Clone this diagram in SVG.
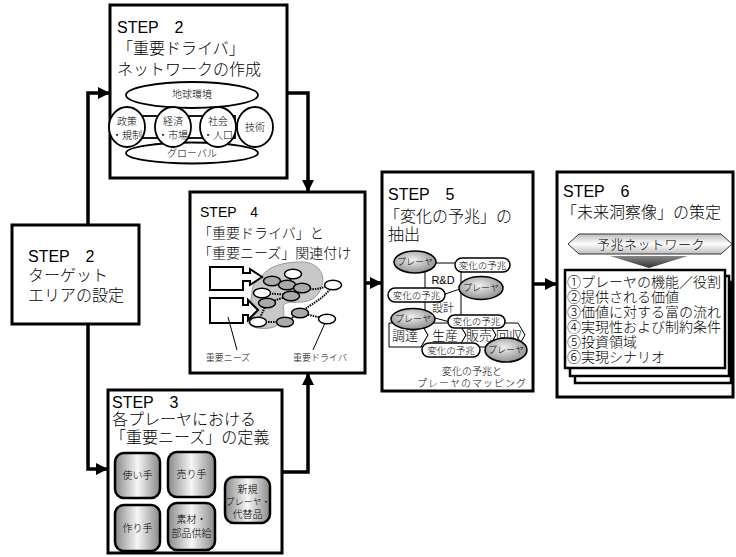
<svg xmlns="http://www.w3.org/2000/svg" width="736" height="557" viewBox="0 0 736 557">
<style>
text{font-family:"Liberation Sans","Noto Sans CJK JP",sans-serif;fill:#000;font-weight:300}
.box{fill:#fff;stroke:#000;stroke-width:3}
.t{font-size:16px}
.t4{font-size:14px}
.s{font-size:10px;text-anchor:middle}
.xs{font-size:9px;text-anchor:middle}
.ps{font-size:9.5px;text-anchor:middle}
.conn{fill:none;stroke:#000;stroke-width:3.5}
.thin{fill:#fff;stroke:#000;stroke-width:1.8}
.ln{fill:none;stroke:#000;stroke-width:1}
.dot{fill:none;stroke:#000;stroke-width:2;stroke-dasharray:1.5 1}
.wn{fill:#fff;stroke:#000;stroke-width:1.5}
.gn{fill:#aaa;stroke:#000;stroke-width:1.5}
.rb{fill:url(#hg);stroke:#000;stroke-width:2.5}
.pl{fill:url(#rg);stroke:#000;stroke-width:1.5}
.pill{fill:#fff;stroke:#000;stroke-width:1.5}
.chev{fill:#fff;stroke:#000;stroke-width:1}
</style>
<defs>
<marker id="ah" viewBox="0 0 12 12" refX="12" refY="6" markerWidth="12" markerHeight="12" markerUnits="userSpaceOnUse" orient="auto">
<path d="M0,0 L12,6 L0,12 Z" fill="#000"/>
</marker>
<linearGradient id="hg" x1="0" y1="0" x2="1" y2="0">
<stop offset="0" stop-color="#888"/>
<stop offset="0.5" stop-color="#f6f6f6"/>
<stop offset="1" stop-color="#888"/>
</linearGradient>
<radialGradient id="rg" cx="0.45" cy="0.4" r="0.65">
<stop offset="0" stop-color="#f0f0f0"/>
<stop offset="1" stop-color="#8a8a8a"/>
</radialGradient>
<linearGradient id="bg" x1="0" y1="0" x2="0" y2="1">
<stop offset="0" stop-color="#bdbdbd"/>
<stop offset="0.5" stop-color="#fdfdfd"/>
<stop offset="1" stop-color="#bdbdbd"/>
</linearGradient>
<linearGradient id="dg" x1="0" y1="0" x2="0" y2="1">
<stop offset="0" stop-color="#888"/>
<stop offset="1" stop-color="#333"/>
</linearGradient>
</defs>

<g id="connectors">
<path class="conn" d="M88,225 V93 H110" marker-end="url(#ah)"/>
<path class="conn" d="M88,324 V469 H108" marker-end="url(#ah)"/>
<path class="conn" d="M287,93 H308 V192" marker-end="url(#ah)"/>
<path class="conn" d="M282,472 H308 V373" marker-end="url(#ah)"/>
<path class="conn" d="M365,283 H382" marker-end="url(#ah)"/>
<path class="conn" d="M533,284 H557" marker-end="url(#ah)"/>
</g>

<g id="step2-target">
<rect class="box" x="12" y="225" width="127" height="99"/>
<text class="t" x="28" y="262">STEP　2</text>
<text class="t" x="28" y="281">ターゲット</text>
<text class="t" x="28" y="301">エリアの設定</text>
</g>

<g id="step2-network">
<rect class="box" x="110" y="5" width="177" height="173"/>
<text class="t" x="117" y="33">STEP　2</text>
<text class="t" x="117" y="54">「重要ドライバ」</text>
<text class="t" x="117" y="75">ネットワークの作成</text>
<ellipse class="thin" cx="192" cy="95" rx="66" ry="13"/>
<ellipse class="thin" cx="192" cy="153" rx="66" ry="10.5"/>
<rect class="thin" x="135" y="116" width="100" height="22"/>
<ellipse class="thin" cx="127" cy="127" rx="18" ry="20"/>
<ellipse class="thin" cx="173" cy="127" rx="18" ry="20"/>
<ellipse class="thin" cx="218" cy="127" rx="18" ry="20"/>
<ellipse class="thin" cx="255" cy="127" rx="18" ry="20"/>
<text class="s" x="192" y="98">地球環境</text>
<text class="s" x="192" y="157">グローバル</text>
<text class="s" x="127" y="125">政策</text>
<text class="s" x="127" y="139">・規制</text>
<text class="s" x="173" y="125">経済</text>
<text class="s" x="173" y="139">・市場</text>
<text class="s" x="218" y="125">社会</text>
<text class="s" x="218" y="139">・人口</text>
<text class="s" x="255" y="131">技術</text>
</g>

<g id="step4">
<rect class="box" x="190" y="192" width="175" height="181"/>
<text class="t4" x="200" y="217">STEP　4</text>
<text class="t4" x="198" y="238">「重要ドライバ」と</text>
<text class="t4" x="198" y="258">「重要ニーズ」関連付け</text>
<path d="M262,276 C268,266 285,262 300,262 C315,261 326,272 322,285 C319,297 311,302 300,302 C291,303 286,301 283,306 C286,316 282,326 270,328 C256,330 245,326 248,316 C250,308 251,300 252,292 C252,285 256,280 262,276 Z" fill="#c8c8c8" stroke="#999" stroke-width="1"/>
<path d="M210,267 H243 V273 H250 V269 L262,277 L250,285 V281 H243 V290 H210 Z" fill="#fff" stroke="#000" stroke-width="2"/>
<path d="M210,298 H243 V305 H248 V300 L258,310 L248,320 V315 H243 V323 H210 Z" fill="#fff" stroke="#000" stroke-width="2"/>
<path class="dot" d="M272,281 L287,285 L300,287 M293,274 L287,285 M300,287 C315,292 322,287 333,285 M330,289 C322,300 312,303 300,313 M262,293 L291,295 L267,303 M267,303 L258,322 M258,322 L285,322 L300,313 L327,319"/>
<ellipse class="wn" cx="293" cy="274" rx="8.5" ry="4.8"/>
<ellipse class="gn" cx="272" cy="281" rx="8.5" ry="4.8"/>
<ellipse class="gn" cx="287" cy="285" rx="8.5" ry="4.8"/>
<ellipse class="gn" cx="302" cy="288" rx="8.5" ry="4.8"/>
<ellipse class="wn" cx="333" cy="285" rx="8.5" ry="4.8"/>
<ellipse class="wn" cx="262" cy="293" rx="8.5" ry="4.8"/>
<ellipse class="gn" cx="291" cy="296" rx="8.5" ry="4.8"/>
<ellipse class="gn" cx="267" cy="303" rx="8.5" ry="4.8"/>
<ellipse class="gn" cx="300" cy="313" rx="8.5" ry="4.8"/>
<ellipse class="wn" cx="258" cy="322" rx="8.5" ry="4.8"/>
<ellipse class="gn" cx="285" cy="322" rx="8.5" ry="4.8"/>
<ellipse class="wn" cx="327" cy="319" rx="8.5" ry="4.8"/>
<path class="ln" d="M228,317 L237,350 M325,323 L313,350"/>
<text class="xs" x="228" y="361">重要ニーズ</text>
<text class="xs" x="320" y="361">重要ドライバ</text>
</g>

<g id="step5">
<rect class="box" x="382" y="172" width="151" height="219"/>
<text class="t" x="388" y="200">STEP　5</text>
<text class="t" x="384" y="222">「変化の予兆」の</text>
<text class="t" x="388" y="240">抽出</text>
<path class="ln" d="M425,262 V318 M461,265 V320 M436,263 H455 M445,294 L460,289 M435,318 L450,322"/>
<path class="chev" d="M389,323 H421 L428,335 L421,347 H389 Z"/>
<path class="chev" d="M421,323 H459 L466,335 L459,347 H421 L428,335 Z"/>
<path class="chev" d="M459,323 H489 L496,335 L489,347 H459 L466,335 Z"/>
<path class="chev" d="M489,323 H518 L525,335 L518,347 H489 L496,335 Z"/>
<text x="405" y="340" font-size="13" text-anchor="middle">調達</text>
<text x="445" y="340" font-size="13" text-anchor="middle">生産</text>
<text x="479" y="340" font-size="13" text-anchor="middle">販売</text>
<text x="509" y="340" font-size="13" text-anchor="middle">回収</text>
<ellipse class="pl" cx="415" cy="262" rx="21" ry="11"/>
<text class="xs" x="415" y="265">プレーヤ</text>
<rect class="pill" x="455" y="258" width="55" height="14" rx="7"/>
<text class="ps" x="482.5" y="268.5">変化の予兆</text>
<text x="443" y="284" font-size="11" text-anchor="middle">R&amp;D</text>
<ellipse class="pl" cx="481" cy="288" rx="22" ry="11.5"/>
<text class="xs" x="481" y="291">プレーヤ</text>
<rect class="pill" x="388" y="288" width="57" height="14" rx="7"/>
<text class="ps" x="416.5" y="298.5">変化の予兆</text>
<text x="443" y="312" font-size="11" text-anchor="middle">設計</text>
<ellipse class="pl" cx="413" cy="319" rx="22" ry="10.5"/>
<text class="xs" x="413" y="322">プレーヤ</text>
<rect class="pill" x="448" y="315" width="57" height="13" rx="6.5"/>
<text class="ps" x="476.5" y="325">変化の予兆</text>
<rect class="pill" x="422" y="343" width="58" height="14" rx="7"/>
<text class="ps" x="451" y="353.5">変化の予兆</text>
<ellipse class="pl" cx="506" cy="350" rx="21" ry="12"/>
<text class="xs" x="506" y="353">プレーヤ</text>
<text x="472" y="375" font-size="10" text-anchor="middle">変化の予兆と</text>
<text x="472" y="387" font-size="10" text-anchor="middle" letter-spacing="1">プレーヤのマッピング</text>
</g>

<g id="step6">
<rect class="box" x="557" y="172" width="176" height="225"/>
<text class="t" x="563" y="197">STEP　6</text>
<text class="t" x="561" y="218">「未来洞察像」の策定</text>
<path d="M568,244 L579,234 H721 L732,244 L721,254 H579 Z" fill="url(#bg)" stroke="#333" stroke-width="1"/>
<text x="651" y="249" font-size="13" text-anchor="middle" letter-spacing="0.5">予兆ネットワーク</text>
<path d="M610,256 H688 L649,268 Z" fill="url(#dg)"/>
<rect x="575" y="282" width="156" height="101" fill="#fff" stroke="#000" stroke-width="2.5"/>
<rect x="570" y="276" width="159" height="100" fill="#fff" stroke="#000" stroke-width="2.5"/>
<rect x="565" y="270" width="160" height="98" fill="#fff" stroke="#000" stroke-width="2.5"/>
<text x="567" y="287" font-size="14">①プレーヤの機能／役割</text>
<text x="567" y="302" font-size="14">②提供される価値</text>
<text x="567" y="317" font-size="14">③価値に対する富の流れ</text>
<text x="567" y="332" font-size="14">④実現性および制約条件</text>
<text x="567" y="347" font-size="14">⑤投資領域</text>
<text x="567" y="362" font-size="14">⑥実現シナリオ</text>
</g>

<g id="step3">
<rect class="box" x="108" y="390" width="174" height="163"/>
<text class="t" x="112" y="408">STEP　3</text>
<text class="t" x="112" y="425">各プレーヤにおける</text>
<text class="t" x="110" y="443">「重要ニーズ」の定義</text>
<rect class="rb" x="115" y="453" width="45" height="45" rx="9"/>
<rect class="rb" x="168" y="452" width="47" height="45" rx="9"/>
<rect class="rb" x="115" y="505" width="45" height="46" rx="9"/>
<rect class="rb" x="168" y="503" width="47" height="47" rx="9"/>
<rect class="rb" x="225" y="477" width="45" height="46" rx="9"/>
<text class="s" x="137.5" y="479">使い手</text>
<text class="s" x="191.5" y="478">売り手</text>
<text class="s" x="137.5" y="532">作り手</text>
<text class="s" x="191.5" y="523">素材・</text>
<text class="s" x="191.5" y="537">部品供給</text>
<text class="s" x="247.5" y="493">新規</text>
<text class="xs" x="248" y="505">プレーヤ・</text>
<text class="s" x="247.5" y="518">代替品</text>
</g>
</svg>
